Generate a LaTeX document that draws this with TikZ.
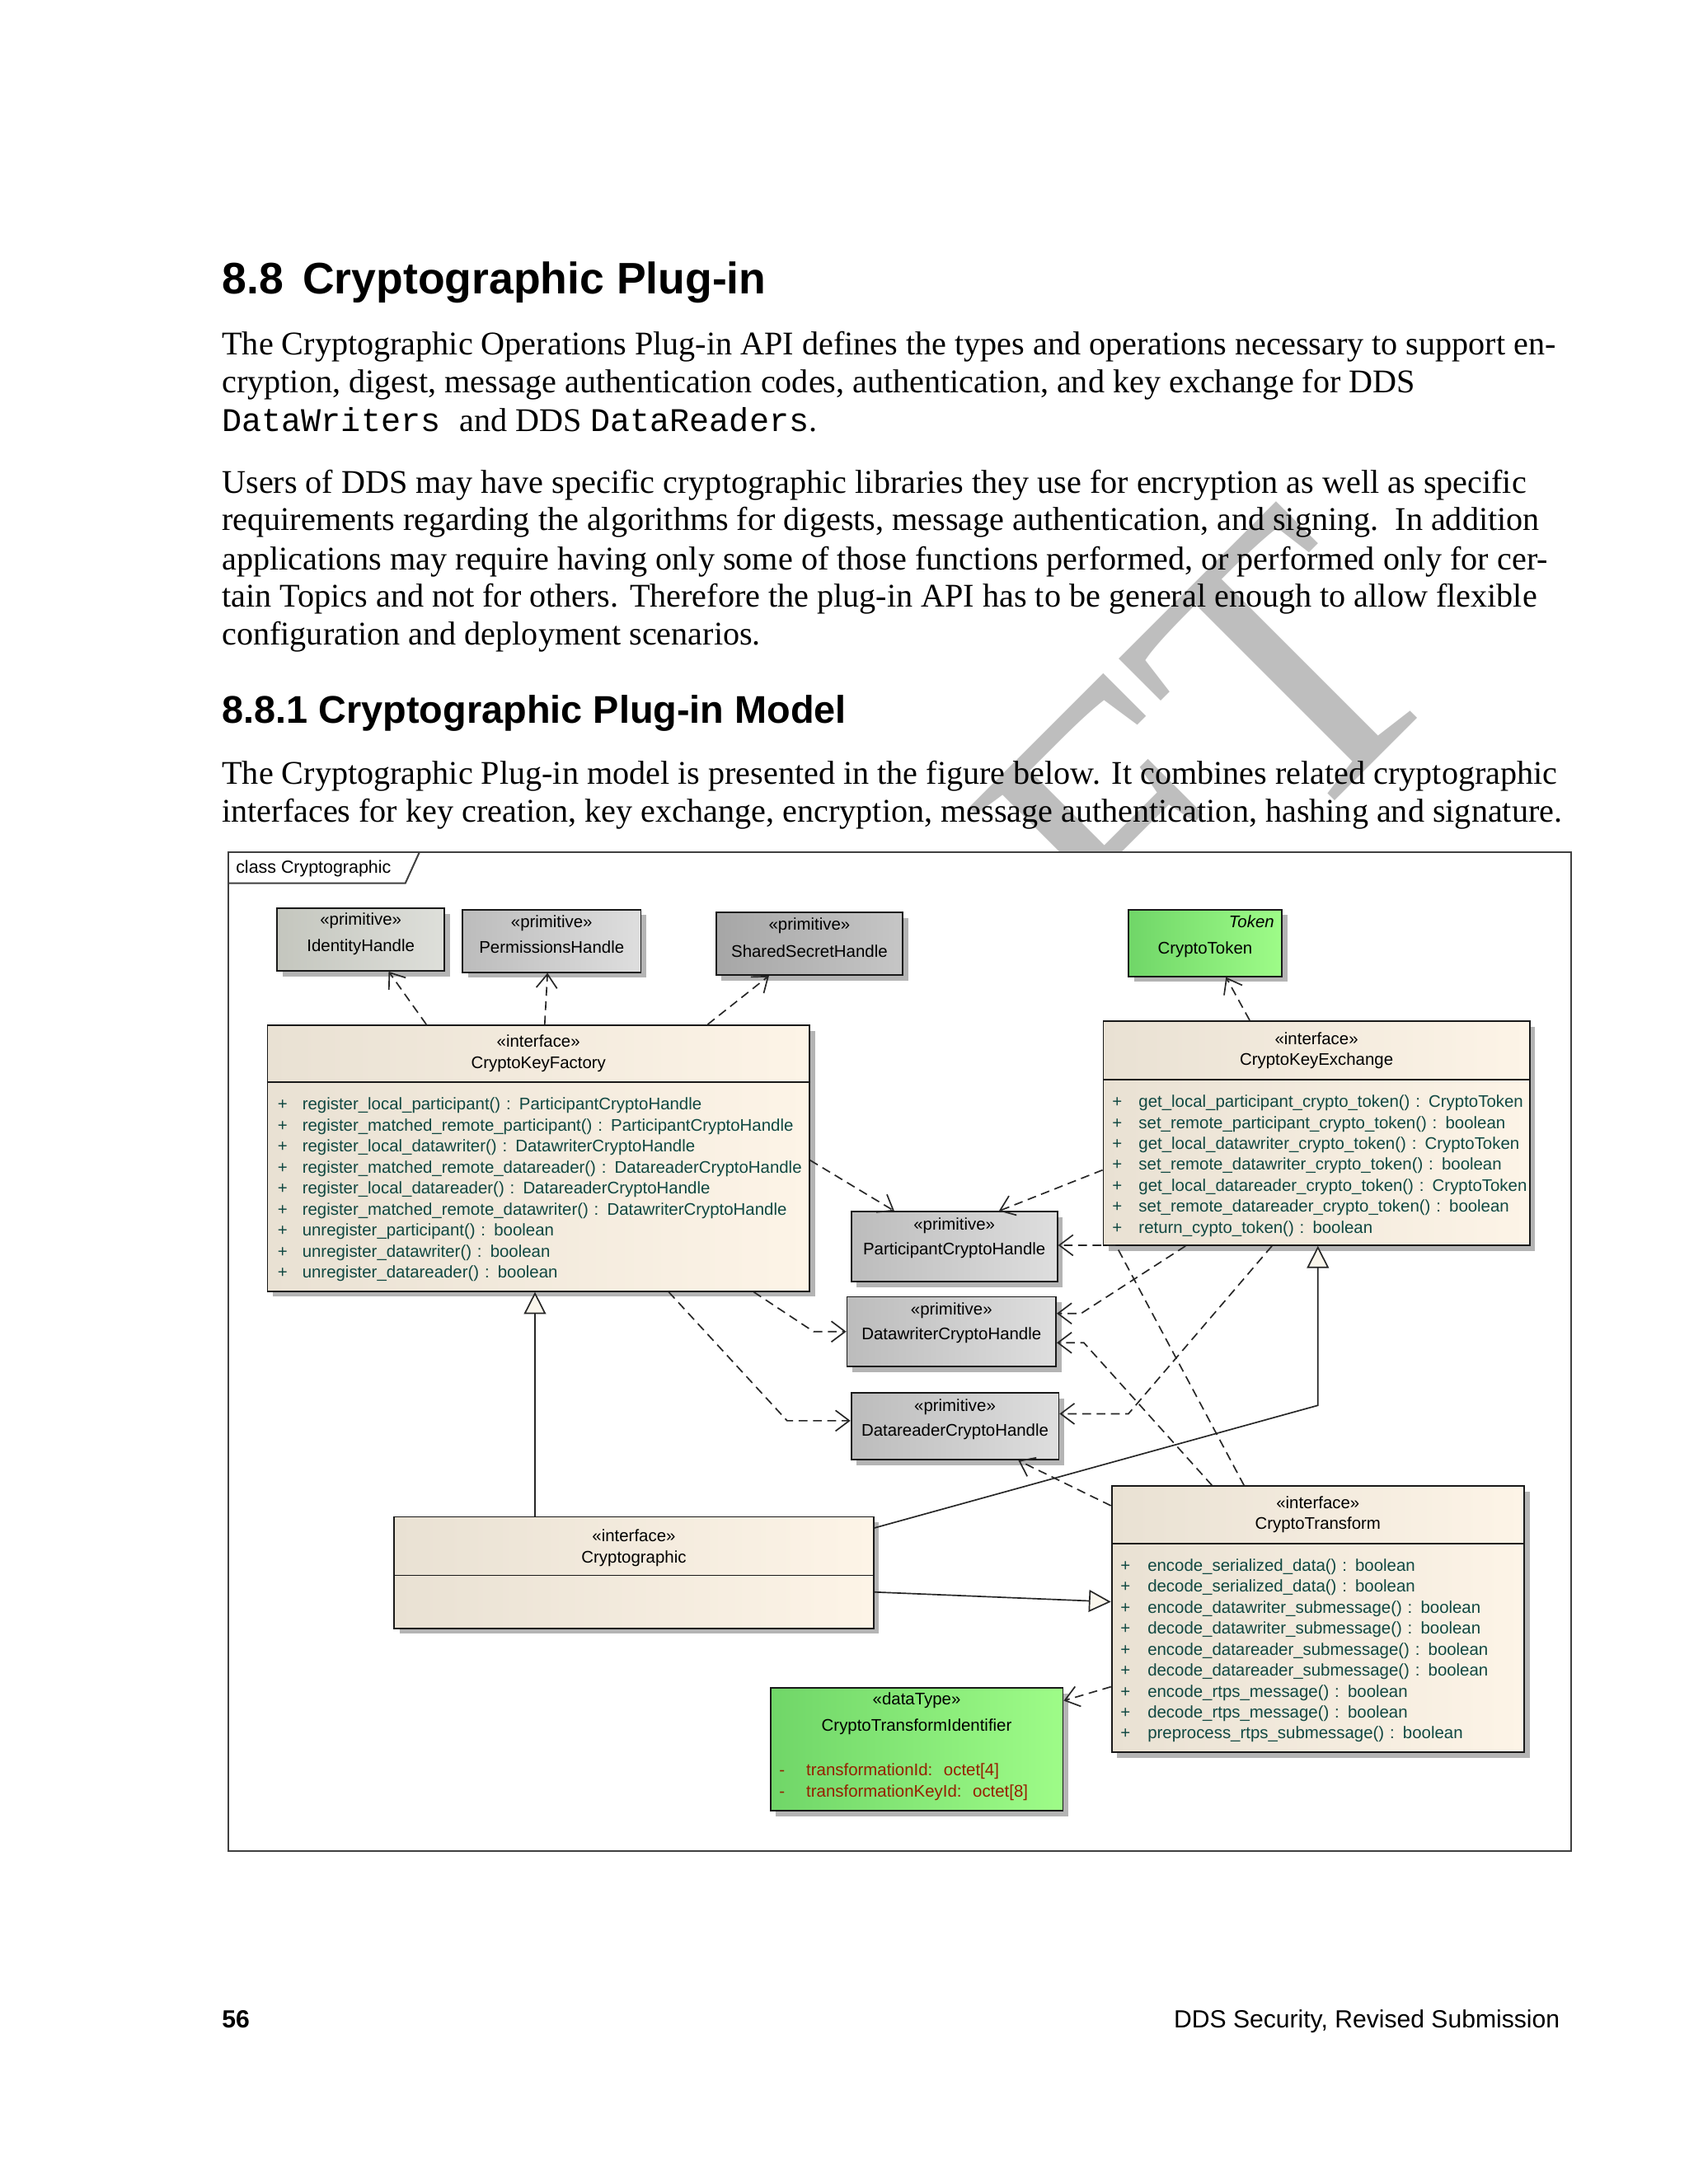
\documentclass[tikz,border=0pt]{standalone}
\usepackage{fontspec}
\setmainfont{Liberation Serif}
\setsansfont{Liberation Sans}
\setmonofont{Liberation Mono}
\usetikzlibrary{arrows.meta,shadows,fit}
\definecolor{wm}{RGB}{190,190,190}
\definecolor{ifL}{RGB}{233,225,211}
\definecolor{ifR}{RGB}{253,244,231}
\definecolor{grL}{RGB}{188,188,188}
\definecolor{grR}{RGB}{222,222,222}
\definecolor{ihL}{RGB}{196,198,190}
\definecolor{ihR}{RGB}{222,223,218}
\definecolor{sshL}{RGB}{166,166,166}
\definecolor{sshR}{RGB}{198,198,198}
\definecolor{gnL}{RGB}{112,214,104}
\definecolor{gnR}{RGB}{158,252,136}
\definecolor{memc}{RGB}{16,72,66}
\definecolor{attc}{RGB}{150,32,0}
\definecolor{shad}{RGB}{180,180,180}
\definecolor{genf}{RGB}{250,246,236}
\newcommand\dgfont{\fontsize{6.1}{7.6}\selectfont\sffamily}
\newcommand\pl[1]{\makebox[#1][l]{+}}
\begin{document}
\begin{tikzpicture}[x=0.505pt,y=-0.505pt,
  body/.style={anchor=base west,inner sep=0pt,font=\fontsize{12}{13.8}\selectfont},
  dgtxt/.style={inner sep=0pt,font=\dgfont},
  hdr/.style={inner sep=0pt,font=\dgfont,align=center,text width=120pt,anchor=base},
  ops/.style={anchor=base west,inner sep=0pt,font=\dgfont,text=memc,align=left,text width=200pt},
  ubox/.style={draw=black!90,line width=0.55pt,inner sep=0pt,
    drop shadow={shadow xshift=2pt,shadow yshift=-2pt,fill=shad,opacity=1}},
  prim/.style={ubox,left color=grL,right color=grR},
  iface/.style={ubox,left color=ifL,right color=ifR},
  green/.style={ubox,left color=gnL,right color=gnR},
  dep/.style={draw=black!85,line width=0.5pt,dash pattern=on 3.2pt off 2pt,
    -{Straight Barb[length=5pt,width=7.5pt,line width=0.5pt]}},
  gen/.style={draw=black!85,line width=0.5pt,
    -{Triangle[open,length=8pt,width=8pt,fill=genf,line width=0.5pt]}}]
\useasboundingbox (0,0) rectangle (1212,1568);
\fill[white] (0,0) rectangle (1212,1568);
% watermark
\node[rotate=45,anchor=base east,inner sep=0pt,text=wm,font=\fontsize{140}{140}\selectfont\rmfamily] (wmk) at (1048,485) {DRAFT};
% page text
\node[anchor=base west,inner sep=0pt,font=\sffamily\bfseries\fontsize{16}{19}\selectfont] (h1) at (159,211) {8.8\hspace{7pt}Cryptographic Plug-in};
\node[body] (p1a) at (159,255) {The Cryptographic Operations Plug-in API defines the types and operations necessary to support en-};
\node[body] (p1b) at (159,282) {cryption, digest, message authentication codes, authentication, and key exchange for DDS};
\node[body] (p1c) at (159,310) {\texttt{DataWriters}\hspace{7pt}and DDS \texttt{DataReaders}.};
\node[body] (p2a) at (159,354) {Users of DDS may have specific cryptographic libraries they use for encryption as well as specific};
\node[body] (p2b) at (159,381) {requirements regarding the algorithms for digests, message authentication, and signing.\ \ In addition};
\node[body] (p2c) at (159,409) {applications may require having only some of those functions performed, or performed only for cer-};
\node[body] (p2d) at (159,436) {tain Topics and not for others. Therefore the plug-in API has to be general enough to allow flexible};
\node[body] (p2e) at (159,463) {configuration and deployment scenarios.};
\node[anchor=base west,inner sep=0pt,font=\sffamily\bfseries\fontsize{14}{17}\selectfont] (h2) at (159,519) {8.8.1 Cryptographic Plug-in Model};
\node[body] (p3a) at (159,563) {The Cryptographic Plug-in model is presented in the figure below. It combines related cryptographic};
\node[body] (p3b) at (159,590) {interfaces for key creation, key exchange, encryption, message authentication, hashing and signature.};
% footer
\node[anchor=base west,inner sep=0pt,font=\sffamily\bfseries\fontsize{9}{11}\selectfont] (pgno) at (159,1456) {56};
\node[anchor=base east,inner sep=0pt,font=\sffamily\fontsize{9}{11}\selectfont] (foot) at (1120,1456) {DDS Security, Revised Submission};
% diagram frame
\node[fit={(164,612) (1128,1329)},inner sep=0pt,draw=black!75,line width=0.6pt,fill=white] (frame) {};
\draw[black!75,line width=0.6pt] (frame.north west |- 0,634) -- (291,634) -- (301,612);
\node[dgtxt,anchor=base west,font=\fontsize{6.4}{7.6}\selectfont\sffamily] (framelbl) at (169,627) {class Cryptographic};
% primitive boxes top
\node[ubox,fit={(199,652) (319,697)},left color=ihL,right color=ihR] (ih) {};
\node[hdr] (ih-lbl) at (259,664) {«primitive»\\[2pt]IdentityHandle};
\node[prim,fit={(332,653) (460,698)}] (ph) {};
\node[hdr] (ph-lbl) at (396,666) {«primitive»\\[1.5pt]PermissionsHandle};
\node[ubox,fit={(514,655) (648,700)},left color=sshL,right color=sshR] (ssh) {};
\node[hdr] (ssh-lbl) at (581,668) {«primitive»\\[2pt]SharedSecretHandle};
\node[green,fit={(810,653) (920,701)}] (tok) {};
\node[dgtxt,anchor=base east,font=\dgfont\itshape] (tok-st) at (915,666) {Token};
\node[dgtxt,anchor=base] (tok-nm) at (865,685) {CryptoToken};
% CryptoKeyFactory
\node[iface,fit={(192,736) (581,927)}] (ckf) {};
\draw[black!90,line width=0.55pt] (ckf.west |- 0,777) -- (ckf.east |- 0,777);
\node[hdr] (ckf-lbl) at (386.5,752) {«interface»\\CryptoKeyFactory};
\node[ops] (ckf-ops) at (199,797) {\pl{8.9pt}register\_local\_participant() : ParticipantCryptoHandle\\
  \pl{8.9pt}register\_matched\_remote\_participant() : ParticipantCryptoHandle\\
  \pl{8.9pt}register\_local\_datawriter() : DatawriterCryptoHandle\\
  \pl{8.9pt}register\_matched\_remote\_datareader() : DatareaderCryptoHandle\\
  \pl{8.9pt}register\_local\_datareader() : DatareaderCryptoHandle\\
  \pl{8.9pt}register\_matched\_remote\_datawriter() : DatawriterCryptoHandle\\
  \pl{8.9pt}unregister\_participant() : boolean\\
  \pl{8.9pt}unregister\_datawriter() : boolean\\
  \pl{8.9pt}unregister\_datareader() : boolean};
% CryptoKeyExchange
\node[iface,fit={(792,733) (1098,894)}] (cke) {};
\draw[black!90,line width=0.55pt] (cke.west |- 0,775) -- (cke.east |- 0,775);
\node[hdr] (cke-lbl) at (945,750) {«interface»\\CryptoKeyExchange};
\node[ops] (cke-ops) at (798,795) {\pl{9.6pt}get\_local\_participant\_crypto\_token() : CryptoToken\\
  \pl{9.6pt}set\_remote\_participant\_crypto\_token() : boolean\\
  \pl{9.6pt}get\_local\_datawriter\_crypto\_token() : CryptoToken\\
  \pl{9.6pt}set\_remote\_datawriter\_crypto\_token() : boolean\\
  \pl{9.6pt}get\_local\_datareader\_crypto\_token() : CryptoToken\\
  \pl{9.6pt}set\_remote\_datareader\_crypto\_token() : boolean\\
  \pl{9.6pt}return\_cypto\_token() : boolean};
% handles
\node[prim,fit={(611,870) (759,920)}] (pch) {};
\node[hdr] (pch-lbl) at (685,883) {«primitive»\\[1.5pt]ParticipantCryptoHandle};
\node[prim,fit={(608,931) (758,981)}] (dwch) {};
\node[hdr] (dwch-lbl) at (683,944) {«primitive»\\[1.5pt]DatawriterCryptoHandle};
\node[prim,fit={(611,1000) (760,1048)}] (drch) {};
\node[hdr] (drch-lbl) at (685.5,1013) {«primitive»\\[1.5pt]DatareaderCryptoHandle};
% Cryptographic
\node[iface,fit={(283,1089) (627,1169)}] (crypt) {};
\draw[black!90,line width=0.55pt] (crypt.west |- 0,1131) -- (crypt.east |- 0,1131);
\node[hdr] (crypt-lbl) at (455,1107) {«interface»\\Cryptographic};
% CryptoTransform
\node[iface,fit={(798,1067) (1094,1258)}] (ctr) {};
\draw[black!90,line width=0.55pt] (ctr.west |- 0,1108) -- (ctr.east |- 0,1108);
\node[hdr] (ctr-lbl) at (946,1083) {«interface»\\CryptoTransform};
\node[ops] (ctr-ops) at (804,1128) {\pl{9.8pt}encode\_serialized\_data() : boolean\\
  \pl{9.8pt}decode\_serialized\_data() : boolean\\
  \pl{9.8pt}encode\_datawriter\_submessage() : boolean\\
  \pl{9.8pt}decode\_datawriter\_submessage() : boolean\\
  \pl{9.8pt}encode\_datareader\_submessage() : boolean\\
  \pl{9.8pt}decode\_datareader\_submessage() : boolean\\
  \pl{9.8pt}encode\_rtps\_message() : boolean\\
  \pl{9.8pt}decode\_rtps\_message() : boolean\\
  \pl{9.8pt}preprocess\_rtps\_submessage() : boolean};
% CryptoTransformIdentifier
\node[green,fit={(553,1212) (763,1300)}] (cti) {};
\node[hdr] (cti-lbl) at (658,1224) {«dataType»\\[2pt]CryptoTransformIdentifier};
\node[ops,text=attc] (cti-att) at (559,1275) {\makebox[9.8pt][l]{-}transformationId:\ \ octet[4]\\
  \makebox[9.8pt][l]{-}transformationKeyId:\ \ octet[8]};
% dependencies
\draw[dep] (306,0 |- ckf.north) -- (279,0 |- ih.south);
\draw[dep] (391,0 |- ckf.north) -- (393,0 |- ph.south);
\draw[dep] (508,0 |- ckf.north) -- (552,0 |- ssh.south);
\draw[dep] (897,0 |- cke.north) -- (880,0 |- tok.south);
\draw[dep] (ckf.east |- 0,833) -- (642,0 |- pch.north);
\draw[dep] (cke.west |- 0,840) -- (717,0 |- pch.north);
\draw[dep] (893,0 |- ctr.north) -- (801,894) -- (pch.east |- 0,894);
\draw[dep] (870,0 |- ctr.north) -- (778,964) -- (dwch.east |- 0,964);
\draw[dep] (851,0 |- cke.south) -- (776,943) -- (dwch.east |- 0,943);
\draw[dep] (913,0 |- cke.south) -- (810,1015) -- (drch.east |- 0,1015);
\draw[dep] (541,0 |- ckf.south) -- (584,956) -- (dwch.west |- 0,956);
\draw[dep] (480,0 |- ckf.south) -- (565,1020) -- (drch.west |- 0,1020);
\draw[dep] (ctr.west |- 0,1081) -- (731,0 |- drch.south);
\draw[dep] (ctr.west |- 0,1211) -- (cti.east |- 0,1221);
% generalizations
\draw[gen] (384,0 |- crypt.north) -- (384,0 |- ckf.south);
\draw[gen] (crypt.east |- 0,1097) -- (946,1009) -- (946,0 |- cke.south);
\draw[gen] (crypt.east |- 0,1143) -- (ctr.west |- 0,1150);
\end{tikzpicture}
\end{document}
